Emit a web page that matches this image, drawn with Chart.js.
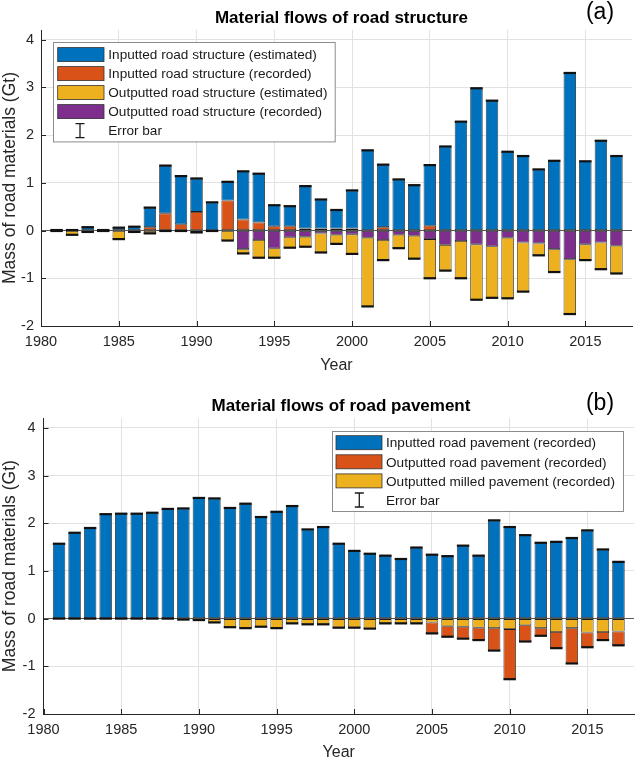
<!DOCTYPE html>
<html><head><meta charset="utf-8">
<script src="https://cdn.jsdelivr.net/npm/chart.js@4.4.1/dist/chart.umd.min.js"></script>
<style>
html,body{margin:0;padding:0;background:#fff;}
#wrap{position:relative;width:640px;height:762px;overflow:hidden;}
.box{position:absolute;left:0;width:640px;height:381px;}
</style></head><body>
<div id="wrap">
<div class="box" style="top:0"><canvas id="ca"></canvas></div>
<div class="box" style="top:381px"><canvas id="cb"></canvas></div>
</div>
<script>
// ---------- data ----------
const years = [1981,1982,1983,1984,1985,1986,1987,1988,1989,1990,1991,1992,1993,1994,1995,1996,1997,1998,1999,2000,2001,2002,2003,2004,2005,2006,2007,2008,2009,2010,2011,2012,2013,2014,2015,2016,2017];
const xTicks = [1980,1985,1990,1995,2000,2005,2010,2015];
const yTicks = [-2,-1,0,1,2,3,4];

// (a) road structure (Gt)
const structInEst  = [0.01,0.01,0.07,0.01,0.06,0.08,0.41,1.00,1.01,0.70,0.59,0.39,1.01,1.02,0.44,0.42,0.89,0.61,0.39,0.80,1.68,1.31,1.07,0.94,1.27,1.76,2.28,2.98,2.72,1.65,1.56,1.28,1.46,3.30,1.45,1.88,1.56];
const structInRec  = [0,0,0,0,0,0,0.07,0.36,0.13,0.39,0,0.63,0.23,0.17,0.09,0.09,0.04,0.04,0.04,0.04,0,0.07,0,0.01,0.10,0,0,0,0,0,0,0,0,0,0,0,0];
const structOutRec = [0,0,0,0,0,0,0,0,0,0,0,0,-0.39,-0.20,-0.37,-0.14,-0.13,-0.06,-0.09,-0.08,-0.15,-0.20,-0.09,-0.11,-0.18,-0.30,-0.22,-0.29,-0.33,-0.15,-0.25,-0.27,-0.39,-0.60,-0.29,-0.25,-0.32];
const structOutEst = [-0.01,-0.09,-0.03,-0.01,-0.18,-0.03,-0.06,-0.01,-0.01,-0.04,-0.01,-0.21,-0.09,-0.37,-0.20,-0.22,-0.21,-0.40,-0.19,-0.41,-1.44,-0.42,-0.28,-0.48,-0.82,-0.54,-0.78,-1.16,-1.08,-1.27,-1.03,-0.25,-0.48,-1.15,-0.33,-0.56,-0.58];

// (b) road pavement (Gt)
const paveIn    = [1.57,1.80,1.90,2.19,2.20,2.20,2.22,2.30,2.31,2.53,2.52,2.32,2.41,2.13,2.24,2.36,1.87,1.92,1.57,1.42,1.36,1.32,1.25,1.49,1.34,1.31,1.53,1.32,2.06,1.92,1.75,1.59,1.61,1.69,1.85,1.45,1.19];
const milledOut = [0,0,0,0,0,0,0,0,-0.02,-0.03,-0.08,-0.18,-0.20,-0.17,-0.20,-0.10,-0.12,-0.12,-0.19,-0.19,-0.21,-0.10,-0.10,-0.10,-0.08,-0.16,-0.17,-0.19,-0.20,-0.22,-0.14,-0.20,-0.28,-0.20,-0.29,-0.28,-0.27];
const paveOut   = [0,0,0,0,0,0,0,0,0,0,0,0,0,0,0,0,0,0,0,0,0,0,0,0,-0.23,-0.22,-0.25,-0.26,-0.47,-1.05,-0.34,-0.16,-0.34,-0.74,-0.31,-0.17,-0.29];

const labelsA = ['Inputted road structure (estimated)','Inputted road structure (recorded)','Outputted road structure (estimated)','Outputted road structure (recorded)'];
const labelsB = ['Inputted road pavement (recorded)','Outputted road pavement (recorded)','Outputted milled pavement (recorded)'];
const errLabel = 'Error bar';
const titleA = 'Material flows of road structure';
const titleB = 'Material flows of road pavement';
const xTitle = 'Year';
const yTitle = 'Mass of road materials (Gt)';

// ---------- styles ----------
const BLUE='#0072BD', ORANGE='#D95319', YELLOW='#EDB120', PURPLE='#7E2F8E';
function hasFont(f){const c=document.createElement('canvas').getContext('2d');const t='abcdefghijklmnopqrstuvwxyz 1980';c.font='40px monospace';const w0=c.measureText(t).width;c.font='40px "'+f+'", monospace';return Math.abs(c.measureText(t).width-w0)>0.5;}
const NARROW = hasFont('Liberation Sans Narrow');
const REG = '"Liberation Sans", Arial, Helvetica, sans-serif';
const NAR = NARROW ? '"Liberation Sans Narrow", "Liberation Sans", Arial, sans-serif' : REG;
const tickSize = NARROW ? 17 : 14.5;
const legSize = NARROW ? 16.5 : 13.6;
const xtSize = NARROW ? 19 : 16;
const TXT = '#262626';

const pts = arr => years.map((yr,i)=>({x:yr,y:arr[i]}));
function mk(label,arr,color){return {label:label,data:pts(arr),backgroundColor:color,borderColor:'#1a1a1a',borderWidth:0.8,borderSkipped:false,barPercentage:0.8,categoryPercentage:1.0};}

const decor = {
  id:'decor',
  afterDatasetsDraw(chart){
    const {ctx, scales:{x,y}} = chart;
    const dss = chart.data.datasets;
    const meta = chart.getDatasetMeta(0);
    ctx.save();
    ctx.strokeStyle='#111'; ctx.lineWidth=2.2; ctx.lineCap='butt';
    for(let j=0;j<dss[0].data.length;j++){
      let pos=0,neg=0;
      dss.forEach(ds=>{const v=ds.data[j].y; if(v>0)pos+=v; else neg+=v;});
      const px = x.getPixelForValue(dss[0].data[j].x);
      const w = meta.data[j].width;
      [pos,neg].forEach(v=>{const py=y.getPixelForValue(v);ctx.beginPath();ctx.moveTo(px-w/2,py);ctx.lineTo(px+w/2,py);ctx.stroke();});
    }
    ctx.restore();
  },
  afterDraw(chart,args,o){
    const {ctx, chartArea:a, scales:{x,y}} = chart;
    ctx.save();
    // inward ticks
    ctx.strokeStyle=TXT; ctx.lineWidth=1;
    yTicks.forEach(v=>{const py=Math.round(y.getPixelForValue(v))+0.5;ctx.beginPath();ctx.moveTo(a.left,py);ctx.lineTo(a.left+5,py);ctx.stroke();});
    xTicks.forEach(v=>{const px=Math.round(x.getPixelForValue(v))+0.5;ctx.beginPath();ctx.moveTo(px,a.bottom);ctx.lineTo(px,a.bottom-5);ctx.stroke();});
    // title + panel label
    ctx.fillStyle='#000'; ctx.textAlign='center'; ctx.textBaseline='middle';
    ctx.font='bold 17px '+REG; ctx.fillText(o.title,o.tx,o.ty);
    ctx.font='23px '+REG; ctx.fillText(o.panel,o.px,o.py);
    // legend
    const L=o.legend;
    const x0 = L.anchor==='left' ? a.left+L.dx : a.right-L.dx-L.w;
    const y0 = a.top+L.dy;
    ctx.fillStyle='#fff'; ctx.fillRect(x0,y0,L.w,L.h);
    ctx.strokeStyle='#8c8c8c'; ctx.lineWidth=1; ctx.strokeRect(Math.round(x0)+0.5,Math.round(y0)+0.5,L.w,L.h);
    ctx.textAlign='left'; ctx.font=legSize+'px '+NAR;
    L.order.forEach((idx,k)=>{
      const cy=y0+L.first+k*L.pitch;
      if(idx>=0){
        const ds=chart.data.datasets[idx];
        ctx.fillStyle=ds.backgroundColor; ctx.fillRect(x0+L.sx,cy-7,L.sw,14);
        ctx.strokeStyle='#333'; ctx.lineWidth=0.8; ctx.strokeRect(x0+L.sx,cy-7,L.sw,14);
        ctx.fillStyle='#1a1a1a'; ctx.fillText(ds.label,x0+L.tx,cy+1);
      } else {
        const ix=x0+L.ix;
        ctx.strokeStyle='#1a1a1a'; ctx.lineWidth=1.3;
        ctx.beginPath();ctx.moveTo(ix,cy-7);ctx.lineTo(ix,cy+7);
        ctx.moveTo(ix-4.5,cy-7);ctx.lineTo(ix+4.5,cy-7);
        ctx.moveTo(ix-4.5,cy+7);ctx.lineTo(ix+4.5,cy+7);ctx.stroke();
        ctx.fillStyle='#1a1a1a'; ctx.fillText(errLabel,x0+L.tx,cy+1);
      }
    });
    ctx.restore();
  }
};

function opts(cfg){
  return {
    responsive:true, maintainAspectRatio:false, animation:false,
    layout:{padding:{top:cfg.top,right:cfg.right,left:0,bottom:0}},
    plugins:{legend:{display:false},tooltip:{enabled:false},decor:cfg.decor},
    scales:{
      x:{type:'linear',min:1980,max:2018,stacked:true,offset:false,
        afterBuildTicks:s=>{s.ticks=xTicks.map(v=>({value:v}));},
        afterFit:s=>{s.height=cfg.xh;},
        grid:{color:'#e2e2e2',drawTicks:false,offset:false},
        border:{display:true,color:TXT,width:1},
        ticks:{padding:7,color:TXT,font:{family:NAR,size:tickSize},maxRotation:0,autoSkip:false,callback:v=>String(v)},
        title:{display:true,text:xTitle,color:TXT,font:{family:NAR,size:xtSize},padding:{top:0,bottom:cfg.xpb}}
      },
      y:{min:-2,max:4.2,stacked:true,
        afterBuildTicks:s=>{s.ticks=yTicks.map(v=>({value:v}));},
        afterFit:s=>{s.width=cfg.yw;},
        grid:{color:c=>c.tick&&c.tick.value===0?'#555555':'#e2e2e2',drawTicks:false},
        border:{display:true,color:TXT,width:1},
        ticks:{padding:cfg.ypad,color:TXT,font:{family:NAR,size:tickSize},callback:v=>String(v)},
        title:{display:true,text:yTitle,color:TXT,font:{family:REG,size:17.5},padding:{top:0,bottom:0}}
      }
    }
  };
}

new Chart(document.getElementById('ca'),{
  type:'bar',
  data:{datasets:[mk(labelsA[1],structInRec,ORANGE),mk(labelsA[0],structInEst,BLUE),mk(labelsA[3],structOutRec,PURPLE),mk(labelsA[2],structOutEst,YELLOW)]},
  options:opts({top:30,right:8,xh:55,yw:41,ypad:7,xpb:6,
    decor:{title:titleA,tx:341.5,ty:18.5,panel:'(a)',px:600,py:12.5,
      legend:{anchor:'left',dx:12.3,dy:12.3,w:281.7,h:99.4,first:12.3,pitch:19,sx:4.4,sw:46.3,tx:55,ix:26.7,order:[1,0,3,2,-1]}}}),
  plugins:[decor]
});

new Chart(document.getElementById('cb'),{
  type:'bar',
  data:{datasets:[mk(labelsB[0],paveIn,BLUE),mk(labelsB[2],milledOut,YELLOW),mk(labelsB[1],paveOut,ORANGE)]},
  options:opts({top:37.3,right:6,xh:48,yw:43.5,ypad:8,xpb:0,
    decor:{title:titleB,tx:341,ty:25.7,panel:'(b)',px:600,py:23,
      legend:{anchor:'right',dx:11.3,dy:12.4,w:291,h:80,first:12,pitch:19.1,sx:4.3,sw:46,tx:54.3,ix:27.6,order:[0,2,1,-1]}}}),
  plugins:[decor]
});
</script>
</body></html>
